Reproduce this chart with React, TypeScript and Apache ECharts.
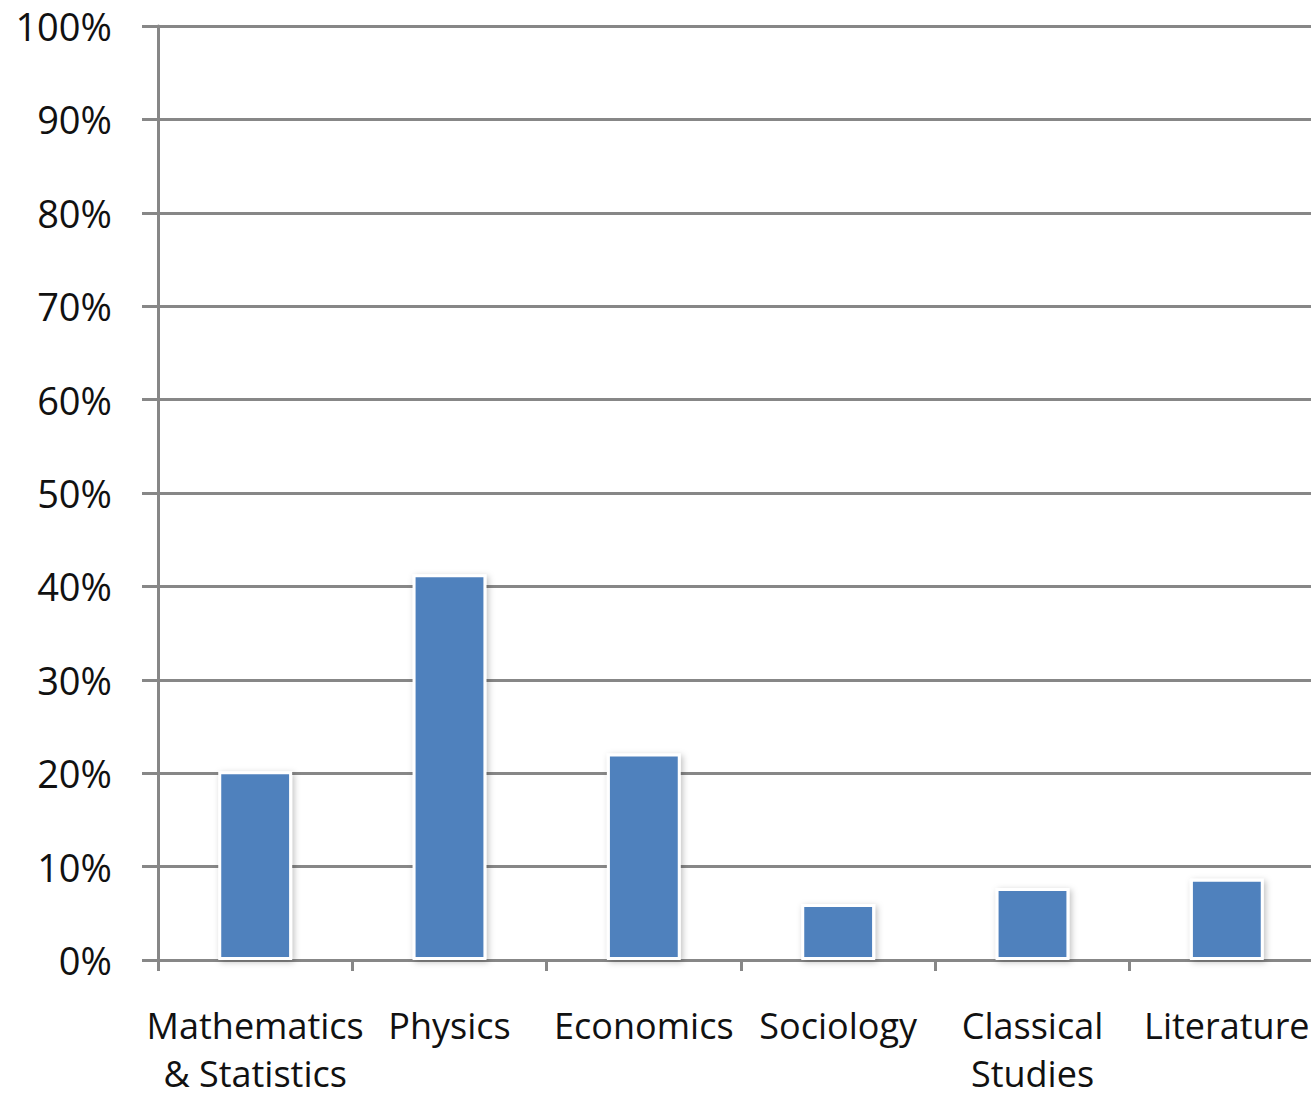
import React, { useEffect, useRef } from "react";
import * as echarts from "echarts";

const categories = [
  "Mathematics\n& Statistics",
  "Physics",
  "Economics",
  "Sociology",
  "Classical\nStudies",
  "Literature",
];
const values = [20.2, 41.3, 22.1, 6.0, 7.7, 8.7];
const yTicks = [0, 10, 20, 30, 40, 50, 60, 70, 80, 90, 100];

export default function App() {
  const ref = useRef<HTMLDivElement>(null);
  useEffect(() => {
    const chart = echarts.init(ref.current!, null, { renderer: "svg" });
    const lineColor = "#878787";
    const font = "'Open Sans', 'Noto Sans', sans-serif";
    chart.setOption({
      animation: false,
      backgroundColor: "#ffffff",
      grid: { left: 158, right: 0, top: 26, bottom: 130, containLabel: false },
      xAxis: {
        type: "category",
        data: categories,
        axisLine: { show: true, lineStyle: { color: lineColor, width: 3 } },
        axisTick: { show: true, inside: false, length: 11, lineStyle: { color: lineColor, width: 3 } },
        axisLabel: {
          color: "#111",
          fontFamily: font,
          fontSize: 36,
          lineHeight: 48,
          margin: 41,
          interval: 0,
        },
        splitLine: { show: false },
      },
      yAxis: {
        type: "value",
        min: yTicks[0],
        max: yTicks[yTicks.length - 1],
        interval: 10,
        axisLine: { show: true, lineStyle: { color: lineColor, width: 3 } },
        axisTick: { show: true, inside: false, length: 16, lineStyle: { color: lineColor, width: 3 } },
        axisLabel: {
          color: "#111",
          fontFamily: font,
          fontSize: 38,
          margin: 46,
          formatter: (v: number) => `${v}%`,
        },
        splitLine: { show: true, lineStyle: { color: lineColor, width: 3 } },
      },
      series: [
        {
          type: "bar",
          data: values,
          barWidth: "38%",
          itemStyle: {
            color: "#4F81BD",
            borderColor: "#ffffff",
            borderWidth: 3,
            shadowColor: "rgba(0,0,0,0.25)",
            shadowBlur: 6,
            shadowOffsetX: 2,
            shadowOffsetY: 2,
          },
        },
      ],
    });
    return () => chart.dispose();
  }, []);
  return (
    <div
      ref={ref}
      style={{ position: "fixed", left: 0, top: 0, width: 1324, height: 1097, background: "#fff" }}
    />
  );
}
